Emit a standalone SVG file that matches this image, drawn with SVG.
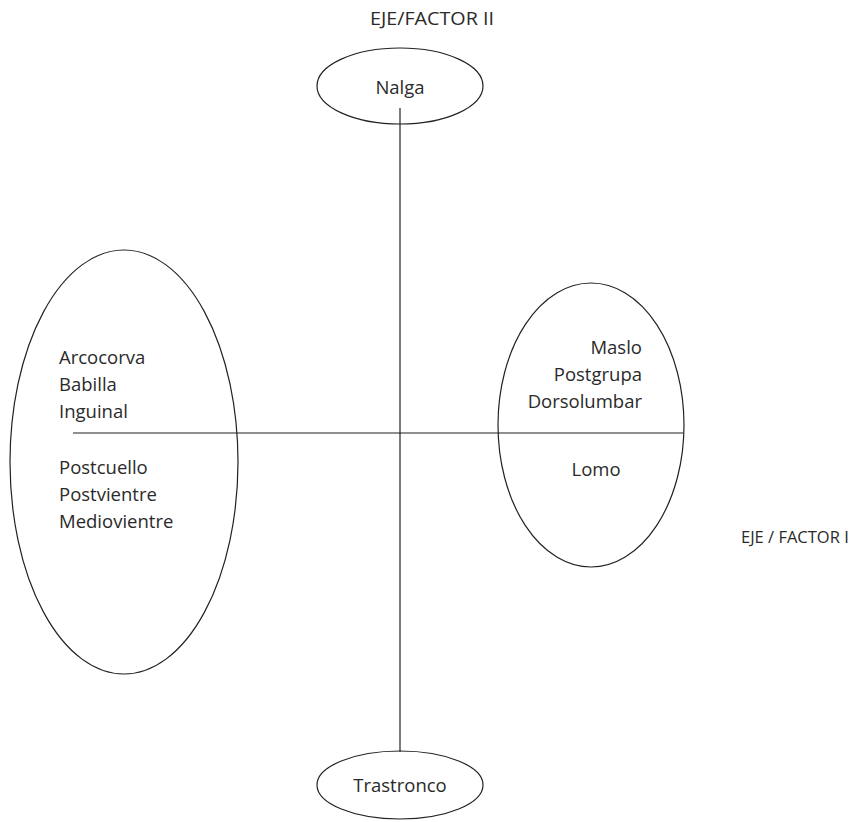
<svg xmlns="http://www.w3.org/2000/svg" width="852" height="822" viewBox="0 0 852 822">
<style>
  .shape { fill: none; stroke: #222; stroke-width: 1.2; }
  .axis { fill: none; stroke: #222; stroke-width: 1.2; }
  text { font-family: "Open Sans", "Noto Sans", "Liberation Sans", sans-serif; font-size: 18.5px; fill: #2a2a2a; }
  .c { text-anchor: middle; }
  .r { text-anchor: end; }
</style>
<rect width="852" height="822" fill="#fff"/>
<g id="connectors">
  <line class="axis" x1="400" y1="108" x2="400" y2="752"/>
  <line class="axis" x1="73" y1="433" x2="683" y2="433"/>
</g>
<g id="label-axis2"><text x="432" y="25" class="c" textLength="124" lengthAdjust="spacingAndGlyphs">EJE/FACTOR II</text></g>
<g id="label-axis1"><text x="741" y="543" style="font-size:16.5px">EJE / FACTOR I</text></g>
<g id="nalga">
  <ellipse class="shape" cx="400" cy="86" rx="83" ry="38"/>
  <text x="400" y="94" class="c">Nalga</text>
</g>
<g id="trastronco">
  <ellipse class="shape" cx="400" cy="785" rx="83" ry="34"/>
  <text x="400" y="792" class="c">Trastronco</text>
</g>
<g id="left-group">
  <ellipse class="shape" cx="124" cy="462" rx="114" ry="212"/>
  <text x="59" y="364">Arcocorva</text>
  <text x="59" y="391">Babilla</text>
  <text x="59" y="418">Inguinal</text>
  <text x="59" y="474">Postcuello</text>
  <text x="59" y="501">Postvientre</text>
  <text x="59" y="528">Mediovientre</text>
</g>
<g id="right-group">
  <ellipse class="shape" cx="591" cy="425" rx="93" ry="142"/>
  <text x="642" y="354" class="r">Maslo</text>
  <text x="642" y="381" class="r">Postgrupa</text>
  <text x="642" y="408" class="r">Dorsolumbar</text>
  <text x="596" y="476" class="c">Lomo</text>
</g>
</svg>
